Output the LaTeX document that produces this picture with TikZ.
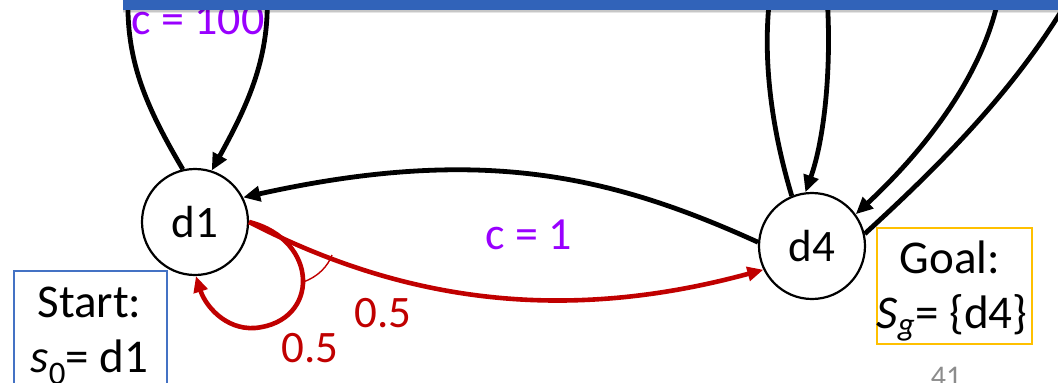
\documentclass[tikz,border=0pt]{standalone}
\usepackage{fontspec}
\setmainfont{Carlito}
\usetikzlibrary{arrows.meta}
\definecolor{barblue}{HTML}{3163B9}
\definecolor{startblue}{HTML}{4472C4}
\definecolor{goalorange}{HTML}{FFC000}
\definecolor{costpurple}{HTML}{9900FF}
\definecolor{probred}{HTML}{C00000}
\definecolor{pagegray}{HTML}{8C8C8C}
\tikzset{
  state/.style={circle, draw, line width=2.2pt, minimum size=106pt, inner sep=0pt, font=\fontsize{45}{48}\selectfont},
  blackedge/.style={line width=4.8pt, draw=black},
  blacktip/.style={-{Triangle[length=17pt,width=15pt]}},
  rededge/.style={line width=4.6pt, draw=probred},
  redtip/.style={-{Triangle[length=16pt,width=14pt]}},
  costlabel/.style={text=costpurple, anchor=base, inner sep=0pt},
  problabel/.style={text=probred, anchor=base, inner sep=0pt, font=\fontsize{45}{48}\selectfont},
  boxtext/.style={anchor=base, inner sep=0pt, font=\fontsize{47}{50}\selectfont},
}
\begin{document}
\begin{tikzpicture}[x=1pt,y=-1pt]
\useasboundingbox (0,0) rectangle (1058,383);
\clip (0,0) rectangle (1058,383);

% states
\node[state] (d1) at (195,222) {d1};
\node[state] (d4) at (812,246) {d4};

% free ends hidden behind the title bar
\coordinate (t1) at (128,-5);
\coordinate (t2) at (267,-5);
\coordinate (t3) at (770,-5);
\coordinate (t4) at (827,-5);
\coordinate (t5) at (999,-5);
\coordinate (t6) at (1068,0);

% cost labels
\node[costlabel, font=\fontsize{46}{50}\selectfont] (c100) at (198,34) {c = 100};
\node[costlabel, font=\fontsize{46}{50}\selectfont] (c1) at (529,249) {c = 1};

% d1 self loop through the bar
\draw[blackedge] (d1.103) .. controls (145,105) and (126,60) .. (t1);
\draw[blackedge, blacktip] (t2) .. controls (270,60) and (245,110) .. (d1.72);

% d4 -> d1
\draw[blackedge, blacktip] (d4.176) .. controls (610,175) and (480,145) .. (d1.27);

% d4 edges through the bar
\draw[blackedge] (d4.112) .. controls (772,130) and (762,60) .. (t3);
\draw[blackedge, blacktip] (t4) .. controls (832,70) and (824,140) .. (d4.97);
\draw[blackedge, blacktip] (t5) .. controls (985,70) and (930,145) .. (d4.36);
\draw[blackedge] (d4.13) .. controls (940,165) and (1015,90) .. (t6);

% red probabilistic edges
\draw[rededge, redtip] (d1.0) .. controls (400,300) and (560,325) .. (d4.206);
\draw[rededge, redtip] (d1.0) .. controls (320,240) and (320,322) .. (255,328)
      .. controls (225,330) and (205,305) .. (d1.271);
\draw[probred, line width=1.4pt] (303,282) .. controls (318,277) and (328,266) .. (332,255);

\node[problabel] (p1) at (383,327) {0.5};
\node[problabel] (p2) at (310,362) {0.5};

% start box
\node[draw=startblue, line width=2pt, minimum width=153pt, minimum height=130pt, anchor=north west, inner sep=0pt] (start) at (13,270) {};
\node[boxtext] (starttxt) at (89.5,317) {Start:};
\node[boxtext] (s0txt) at (89.5,372) {\textit{s}\textsubscript{0}= d1};

% goal box
\node[draw=goalorange, line width=2pt, minimum width=155pt, minimum height=116pt, anchor=north west, inner sep=0pt] (goal) at (876,227) {};
\node[boxtext] (goaltxt) at (950,273) {Goal:};
\node[boxtext] (sgtxt) at (952,328) {\textit{S\textsubscript{g}}= \{d4\}};

% page number
\node[anchor=base, inner sep=0pt, text=pagegray, font=\fontsize{30}{32}\selectfont] (page) at (946,386) {41};

% title bar with soft shadow
\fill[black, opacity=0.22] (123,10) rectangle (1058,11.5);
\fill[black, opacity=0.10] (123,11.5) rectangle (1058,13);
\fill[barblue] (123,-2) rectangle (1058,10);
\end{tikzpicture}
\end{document}
